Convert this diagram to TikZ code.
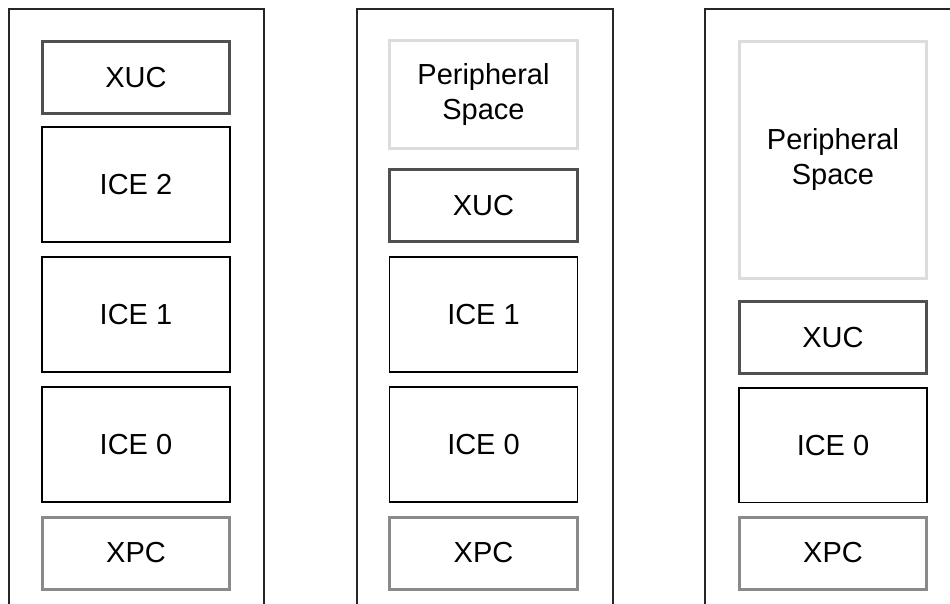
\documentclass[tikz,border=0pt]{standalone}
\usepackage{fontspec}
\setmainfont{Liberation Sans}
\usepackage{tikz}
\usetikzlibrary{shapes}
\definecolor{xucgray}{HTML}{505050}
\definecolor{xpcgray}{HTML}{8A8A8A}
\definecolor{pgray}{HTML}{DCDCDC}
\tikzstyle{unit} = [rectangle, minimum width=3.76cm, inner sep=0pt, align=center, font=\fontsize{16.5}{20}\selectfont]
\tikzstyle{xuc} = [unit, draw=xucgray, line width=1.7pt, minimum height=1.44cm]
\tikzstyle{ice} = [unit, draw=black, line width=1.1pt, minimum height=2.3cm]
\tikzstyle{xpc} = [unit, draw=xpcgray, line width=1.7pt, minimum height=1.44cm]
\tikzstyle{periph} = [unit, draw=pgray, line width=1.7pt]
\tikzstyle{frame} = [draw=black!85, line width=1.1pt]

\begin{document}
\begin{tikzpicture}[x=0.02cm, y=-0.02cm]
		\useasboundingbox (0,0) rectangle (950,603);
		\draw [frame] (9,615) -- (9,9) -- (264,9) -- (264,615);
		\draw [frame] (357,615) -- (357,9) -- (613,9) -- (613,615);
		\draw [frame] (705,615) -- (705,9) -- (961,9) -- (961,615);

		\node [xpc] (xpcA) at (136,553) {XPC};
		\node [ice, above of=xpcA, node distance=2.17cm] (iceA0) {ICE 0};
		\node [ice, above of=iceA0, node distance=2.6cm] (iceA1) {ICE 1};
		\node [ice, above of=iceA1, node distance=2.6cm] (iceA2) {ICE 2};
		\node [xuc, above of=iceA2, node distance=2.15cm] (xucA) {XUC};

		\node [xpc] (xpcB) at (483.5,553) {XPC};
		\node [ice, above of=xpcB, node distance=2.17cm] (iceB0) {ICE 0};
		\node [ice, above of=iceB0, node distance=2.6cm] (iceB1) {ICE 1};
		\node [xuc, above of=iceB1, node distance=2.18cm] (xucB) {XUC};
		\node [periph, minimum height=2.16cm, above of=xucB, node distance=2.22cm] (periphB) {Peripheral\\Space};

		\node [xpc] (xpcC) at (833,553) {XPC};
		\node [ice, above of=xpcC, node distance=2.16cm] (iceC0) {ICE 0};
		\node [xuc, above of=iceC0, node distance=2.16cm] (xucC) {XUC};
		\node [periph, minimum height=4.74cm, above of=xucC, node distance=3.55cm] (periphC) {Peripheral\\Space};
\end{tikzpicture}
\end{document}
